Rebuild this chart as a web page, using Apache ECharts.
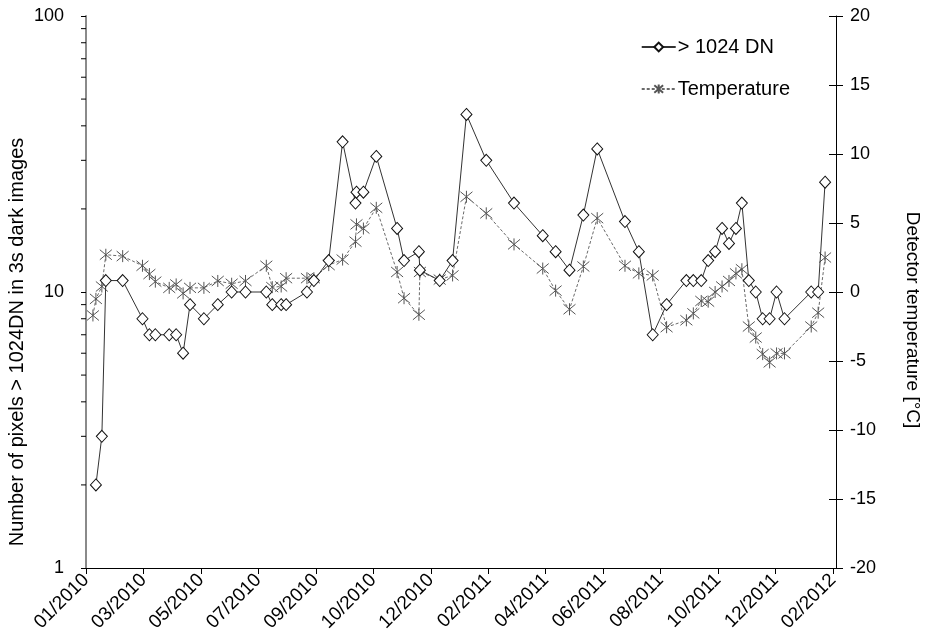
<!DOCTYPE html>
<html>
<head>
<meta charset="utf-8">
<script src="https://cdn.jsdelivr.net/npm/echarts@6/dist/echarts.min.js"></script>
<style>
  html, body { margin: 0; padding: 0; background: #fff; }
  #chart { width: 926px; height: 639px; }
</style>
</head>
<body>
<div id="chart"></div>
<script>
// Weekly/biweekly detector sampling dates
const sampleDates = [
  '2010-01-20','2010-01-23','2010-01-29','2010-02-02','2010-02-19','2010-03-11','2010-03-18','2010-03-24',
  '2010-04-07','2010-04-14','2010-04-21','2010-04-28','2010-05-12','2010-05-26','2010-06-09','2010-06-23',
  '2010-07-14','2010-07-20','2010-07-29','2010-08-03','2010-08-24','2010-08-31','2010-09-15','2010-09-29',
  '2010-10-12','2010-10-13','2010-10-20','2010-11-02','2010-11-23','2010-11-30','2010-12-15','2010-12-16',
  '2011-01-05','2011-01-18','2011-02-01','2011-02-21','2011-03-21','2011-04-19','2011-05-02','2011-05-16',
  '2011-05-30','2011-06-13','2011-07-11','2011-07-25','2011-08-08','2011-08-22','2011-09-11','2011-09-18',
  '2011-09-26','2011-10-03','2011-10-10','2011-10-17','2011-10-24','2011-10-31','2011-11-06','2011-11-13',
  '2011-11-20','2011-11-27','2011-12-04','2011-12-11','2011-12-19','2012-01-15','2012-01-22','2012-01-29'
];

// Hot pixel count (> 1024 DN) in 3 s dark frames
const hotPixels = [
  null, 2, 3, 11, 11, 8, 7, 7,
  7, 7, 6, 9, 8, 9, 10, 10,
  10, 9, 9, 9, 10, 11, 13, 35,
  21, 23, 23, 31, 17, 13, 14, 12,
  11, 13, 44, 30, 21, 16, 14, 12,
  19, 33, 18, 14, 7, 9, 11, 11,
  11, 13, 14, 17, 15, 17, 21, 11,
  10, 8, 8, 10, 8, 10, 10, 25
];

// Detector temperature in °C
const temperature = [
  -1.7, -0.5, 0.4, 2.7, 2.6, 1.9, 1.3, 0.75,
  0.3, 0.55, -0.1, 0.3, 0.3, 0.8, 0.6, 0.8,
  1.9, 0.35, 0.4, 1.0, 1.0, 1.0, 1.95, 2.35,
  3.65, 4.9, 4.6, 6.1, 1.45, -0.45, -1.65, 1.45,
  0.9, 1.2, 6.9, 5.7, 3.45, 1.7, 0.1, -1.25,
  1.85, 5.35, 1.9, 1.35, 1.2, -2.55, -2.05, -1.55,
  -0.65, -0.7, 0.0, 0.4, 0.8, 1.35, 1.65, -2.5,
  -3.3, -4.5, -5.1, -4.45, -4.45, -2.5, -1.5, 2.5
];

// Log-axis minor tick values and right-axis tick values
const logMinorTicks = [2, 3, 4, 5, 6, 7, 8, 9, 20, 30, 40, 50, 60, 70, 80, 90];
const tempTicks = [-20, -15, -10, -5, 0, 5, 10, 15, 20];

// Axis titles
const leftTitle = 'Number of pixels > 1024DN in 3s dark images';
const rightTitle = 'Detector temperature [°C]';

// Date axis: day offsets from the first tick, one tick every 58 days
const axisStart = Date.UTC(2010, 0, 13);
const DAY = 86400000;
const tickStep = 58;
const axisEnd = 757;

function dayOffset(s) {
  const p = s.split('-').map(Number);
  return Math.round((Date.UTC(p[0], p[1] - 1, p[2]) - axisStart) / DAY);
}
function monthLabel(v) {
  const d = new Date(axisStart + v * DAY);
  const m = d.getUTCMonth() + 1;
  return (m < 10 ? '0' + m : '' + m) + '/' + d.getUTCFullYear();
}
const xs = sampleDates.map(dayOffset);
const pixelData = xs.map((x, i) => [x, hotPixels[i]]);
const tempData = xs.map((x, i) => [x, temperature[i]]);

const FONT = '"Liberation Sans", Arial, sans-serif';
const asterisk = 'path://M0,0L10,10M0,10L10,0M5,-1L5,11';

const chart = echarts.init(document.getElementById('chart'), null, { renderer: 'canvas' });

chart.setOption({
  backgroundColor: '#ffffff',
  animation: false,
  textStyle: { fontFamily: FONT },
  grid: { left: 86, right: 90, top: 16, bottom: 71, containLabel: false },
  legend: {
    data: ['> 1024 DN', 'Temperature'],
    orient: 'vertical',
    right: 131,
    top: 32,
    itemWidth: 34,
    itemHeight: 11,
    itemGap: 22,
    textStyle: { fontSize: 20, color: '#000', fontFamily: FONT, padding: [0, 0, 0, -3] }
  },
  graphic: [
    {
      type: 'text',
      x: 17, y: 342,
      rotation: Math.PI / 2,
      silent: true,
      style: { text: leftTitle, font: '20px ' + FONT, fill: '#000', align: 'center', verticalAlign: 'middle' }
    },
    {
      type: 'text',
      x: 912, y: 320,
      rotation: -Math.PI / 2,
      silent: true,
      style: { text: rightTitle, font: '19px ' + FONT, fill: '#000', align: 'center', verticalAlign: 'middle' }
    }
  ],
  xAxis: {
    type: 'value',
    min: 0,
    max: axisEnd,
    interval: tickStep,
    splitLine: { show: false },
    axisLine: { onZero: false, lineStyle: { color: '#000', width: 1 } },
    axisTick: { length: 6, lineStyle: { color: '#000' } },
    axisLabel: {
      rotate: 45,
      fontSize: 19,
      color: '#000',
      fontFamily: FONT,
      margin: 9,
      showMaxLabel: false,
      formatter: function (v) {
        return v % tickStep === 0 ? monthLabel(v) : '';
      }
    }
  },
  yAxis: [
    {
      type: 'log',
      logBase: 10,
      min: 1,
      max: 100,
      position: 'left',
      splitLine: { show: false },
      axisLine: { show: true, lineStyle: { color: '#8a8a8a', width: 2 } },
      axisTick: { show: true, length: 5, lineStyle: { color: '#000' } },
      axisLabel: { fontSize: 18, color: '#000', margin: 22, fontFamily: FONT }
    },
    {
      type: 'value',
      min: -20,
      max: 20,
      interval: 5,
      position: 'right',
      splitLine: { show: false },
      axisLine: { show: true, lineStyle: { color: '#000', width: 1 } },
      axisTick: { show: true, length: 7, lineStyle: { color: '#000' } },
      axisLabel: { fontSize: 18, color: '#000', margin: 14, fontFamily: FONT }
    }
  ],
  series: [
    {
      name: 'Temperature',
      type: 'line',
      yAxisIndex: 1,
      data: tempData,
      symbol: asterisk,
      symbolSize: 12,
      itemStyle: { color: 'rgba(0,0,0,0)', borderColor: '#555', borderWidth: 1 },
      lineStyle: { color: '#6a6a6a', width: 1, type: [3, 2] },
      z: 3
    },
    {
      name: '> 1024 DN',
      type: 'line',
      yAxisIndex: 0,
      data: pixelData,
      connectNulls: true,
      symbol: 'diamond',
      symbolSize: [11, 12],
      itemStyle: { color: '#ffffff', borderColor: '#111', borderWidth: 1 },
      lineStyle: { color: '#333', width: 1 },
      z: 4
    },
    {
      // minor ticks of the logarithmic left axis
      type: 'custom',
      yAxisIndex: 0,
      silent: true,
      clip: false,
      data: logMinorTicks.map(v => [0, v]),
      renderItem: function (params, api) {
        const y = api.coord([0, api.value(1)])[1];
        const x0 = params.coordSys.x;
        return {
          type: 'line',
          shape: { x1: x0 - 5, y1: y, x2: x0, y2: y },
          style: { stroke: '#000', lineWidth: 1 }
        };
      },
      z: 2
    },
    {
      // inner half of the crossing ticks on the temperature axis
      type: 'custom',
      yAxisIndex: 1,
      silent: true,
      clip: false,
      data: tempTicks.map(v => [0, v]),
      renderItem: function (params, api) {
        const y = Math.round(api.coord([0, api.value(1)])[1]) + 0.5;
        const xr = params.coordSys.x + params.coordSys.width;
        return {
          type: 'line',
          shape: { x1: xr - 7, y1: y, x2: xr, y2: y },
          style: { stroke: '#000', lineWidth: 1 }
        };
      },
      z: 2
    }
  ]
});
</script>
</body>
</html>
